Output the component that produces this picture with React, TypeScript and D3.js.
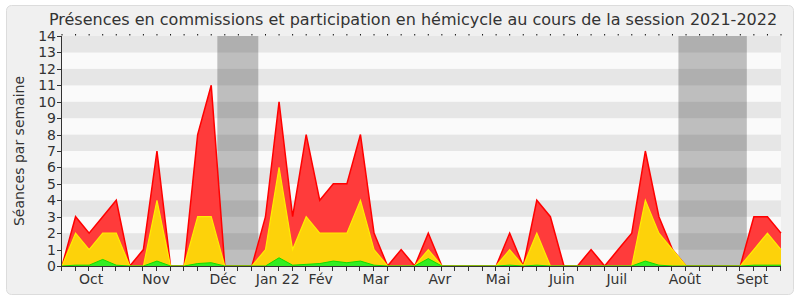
import React from "react";
import * as d3 from "d3";

const title = "Présences en commissions et participation en hémicycle au cours de la session 2021-2022";
const yLabel = "Séances par semaine";

// weekly values (week index 0..53)
const totalSeances = [0,3,2,3,4,0,1,7,0,0,8,11,0,0,0,3,10,3,8,4,5,5,8,2,0,1,0,2,0,0,0,0,0,2,0,4,3,0,0,1,0,1,2,7,3,1,0,0,0,0,0,3,3,2];
const commissionSeances = [0,2,1,2,2,0,0,4,0,0,3,3,0,0,0,1,6,1,3,2,2,2,4,1,0,0,0,1,0,0,0,0,0,1,0,2,0,0,0,0,0,0,0,4,2,1,0,0,0,0,0,1,2,1];
const hemicycleSeances = [0,0.05,0.05,0.4,0.05,0,0,0.3,0,0,0.15,0.2,0,0,0,0,0.5,0.05,0.1,0.15,0.3,0.2,0.3,0.05,0,0,0,0.45,0,0,0,0,0,0.05,0,0.05,0,0,0,0,0,0,0,0.3,0.05,0,0,0,0,0,0,0.05,0.05,0.05];

const monthLabels = ["Oct","Nov","Déc","Jan 22","Fév","Mar","Avr","Mai","Juin","Juil","Août","Sept"];
const monthPositions = [2.14,6.93,11.87,15.9,19.07,23.13,27.86,32.14,36.84,40.9,45.92,50.88];

const vacationStart = [11.45, 45.44];
const vacationEnd = [14.47, 50.48];

const yTicks = d3.range(0, 15);

export default function App() {
  const W = 800, H = 300;
  const left = 62, right = 781, top = 36, bottom = 266;
  const n = totalSeances.length;
  const x = d3.scaleLinear().domain([0, n - 1]).range([left, right]);
  const y = d3.scaleLinear().domain([0, 14]).range([bottom, top]);
  const idx = d3.range(n);
  const area = (vals: number[]) =>
    d3.area<number>().x((i) => x(i)).y0(y(0)).y1((i) => y(vals[i]))(idx) || "";
  const line = (vals: number[]) =>
    d3.line<number>().x((i) => x(i)).y((i) => y(vals[i]))(idx) || "";

  return (
    <svg width={W} height={H} style={{ position: "absolute", left: 0, top: 0 }} fontFamily="DejaVu Sans">
      <rect x={6.5} y={5.5} width={787} height={289} rx={5} fill="#f0f0f0" stroke="#dcdcdc" />
      <text x={413} y={25} textAnchor="middle" fontSize={16} fill="#333">{title}</text>
      {/* stripes */}
      {yTicks.slice(0, 14).map((k) => (
        <rect key={k} x={left} y={y(k + 1)} width={right - left} height={y(k) - y(k + 1)}
          fill={k % 2 === 1 ? "#e6e6e6" : "#fafafa"} />
      ))}
      {/* vacation bands */}
      {vacationStart.map((s, i) => (
        <rect key={i} x={x(s)} y={top} width={x(vacationEnd[i]) - x(s)} height={bottom - top}
          fill="#000" fillOpacity={0.24} />
      ))}
      {/* areas */}
      <path d={area(totalSeances)} fill="#ff3b3b" />
      <path d={line(totalSeances)} fill="none" stroke="#ff0000" strokeWidth={1.5} />
      <path d={area(commissionSeances)} fill="#fdd20a" />
      <path d={line(commissionSeances)} fill="none" stroke="#ffee00" strokeWidth={1.2} />
      <path d={area(hemicycleSeances)} fill="#33ee22" />
      <path d={line(hemicycleSeances)} fill="none" stroke="#11dd00" strokeWidth={1} />
      {/* top dots */}
      {idx.map((i) => (
        <rect key={i} x={x(i) - 0.5} y={top - 2} width={1} height={1.5} fill="#111" />
      ))}
      {/* axes */}
      <line x1={left} x2={right} y1={bottom + 0.5} y2={bottom + 0.5} stroke="#333" />
      <line x1={left - 0.5} x2={left - 0.5} y1={top} y2={bottom + 1} stroke="#333" />
      {idx.map((i) => (
        <line key={i} x1={Math.round(x(i)) - 0.5} x2={Math.round(x(i)) - 0.5} y1={bottom} y2={bottom + 5} stroke="#333" />
      ))}
      {yTicks.map((k) => (
        <g key={k}>
          <line x1={left - 5} x2={left} y1={Math.round(y(k)) + 0.5} y2={Math.round(y(k)) + 0.5} stroke="#333" />
          <text x={56} y={y(k)} dy="0.36em" textAnchor="end" fontSize={14} fill="#333">{k}</text>
        </g>
      ))}
      {monthLabels.map((m, i) => (
        <text key={m} x={x(monthPositions[i])} y={284} textAnchor="middle" fontSize={14} fill="#333">{m}</text>
      ))}
      <text transform={`translate(24,${(top + bottom) / 2}) rotate(-90)`} textAnchor="middle" fontSize={14} fill="#333">{yLabel}</text>
    </svg>
  );
}
